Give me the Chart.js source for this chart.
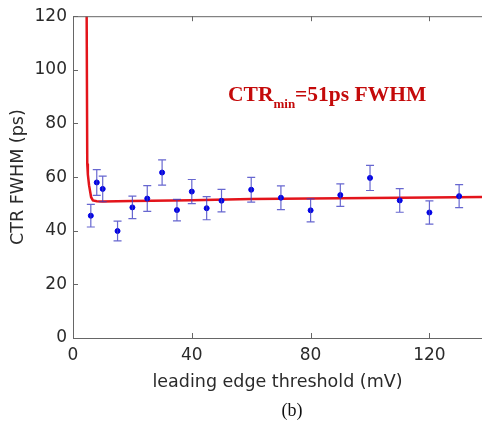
<!DOCTYPE html>
<html>
<head>
<meta charset="utf-8">
<script src="https://cdn.jsdelivr.net/npm/chart.js@4"></script>
<style>
  html, body { margin: 0; padding: 0; background: #fff; overflow: hidden; }
  #wrap { position: relative; width: 482px; height: 423px; overflow: hidden; }
</style>
</head>
<body>
<div id="wrap"><canvas id="c" width="487" height="423"></canvas></div>
<script>
// measured CTR per leading edge threshold
const thresholds = [6, 8, 10, 15, 20, 25, 30, 35, 40, 45, 50, 60, 70, 80, 90, 100, 110, 120, 130]
const ctr = [45.6, 58.0, 55.6, 39.9, 48.7, 52.0, 61.7, 47.7, 54.6, 48.4, 51.2, 55.3, 52.3, 47.6, 53.3, 59.7, 51.3, 46.8, 52.9]
const ctrErr = [4.2, 4.8, 4.8, 3.7, 4.2, 4.8, 4.7, 4.0, 4.5, 4.3, 4.2, 4.6, 4.4, 4.3, 4.2, 4.7, 4.4, 4.3, 4.3]

// fitted curve
const fitX = [4.6, 4.8, 5.0, 5.4, 6.1, 6.7, 8, 10, 20, 40, 60, 80, 100, 120, 137.7]
const fitY = [120, 65, 61, 57, 52.5, 51.3, 51, 50.9, 51.1, 51.4, 51.8, 52.0, 52.2, 52.4, 52.6]

const yTicks = [0, 20, 40, 60, 80, 100, 120]
const xTicks = [0, 40, 80, 120]

const axisColor = "#666"
const textColor = "#2a2a2a"
const tickFont = { family: "DejaVu Sans", size: 17 }
const titleFont = { family: "DejaVu Sans", size: 17.5 }

const errorBars = {
  id: "errorBars",
  afterDatasetsDraw(chart) {
    const { ctx, scales: { x, y } } = chart
    ctx.save()
    ctx.strokeStyle = "rgba(60,60,195,0.78)"
    ctx.lineWidth = 1.2
    thresholds.forEach((t, i) => {
      const px = x.getPixelForValue(t)
      const top = y.getPixelForValue(ctr[i] + ctrErr[i])
      const bot = y.getPixelForValue(ctr[i] - ctrErr[i])
      ctx.beginPath()
      ctx.moveTo(px, top); ctx.lineTo(px, bot)
      ctx.moveTo(px - 4, top); ctx.lineTo(px + 4, top)
      ctx.moveTo(px - 4, bot); ctx.lineTo(px + 4, bot)
      ctx.stroke()
    })
    ctx.restore()
  }
}

const frame = {
  id: "frame",
  afterDraw(chart) {
    const { ctx, chartArea: a, scales: { x, y } } = chart
    ctx.save()
    ctx.strokeStyle = axisColor
    ctx.lineWidth = 1
    ctx.beginPath()
    ctx.moveTo(a.left, a.top + 0.5); ctx.lineTo(a.right, a.top + 0.5)
    yTicks.forEach(v => {
      const py = Math.round(y.getPixelForValue(v)) + 0.5
      ctx.moveTo(a.left, py); ctx.lineTo(a.left + 5, py)
    })
    xTicks.forEach(v => {
      const px = Math.round(x.getPixelForValue(v)) + 0.5
      ctx.moveTo(px, a.bottom); ctx.lineTo(px, a.bottom - 5)
      ctx.moveTo(px, a.top); ctx.lineTo(px, a.top + 5)
    })
    ctx.stroke()

    // annotation
    const ax = x.getPixelForValue(52.2)
    const ay = y.getPixelForValue(88.5)
    ctx.fillStyle = "#c40a0a"
    ctx.textBaseline = "alphabetic"
    ctx.font = "bold 21.5px 'Liberation Serif'"
    ctx.fillText("CTR", ax, ay)
    let w = ctx.measureText("CTR").width
    ctx.font = "bold 13px 'Liberation Serif'"
    ctx.fillText("min", ax + w, ay + 7)
    w += ctx.measureText("min").width
    ctx.font = "bold 21.5px 'Liberation Serif'"
    ctx.fillText("=51ps FWHM", ax + w, ay)

    // panel label
    ctx.fillStyle = "#111"
    ctx.font = "18px 'Liberation Serif'"
    ctx.textAlign = "center"
    ctx.fillText("(b)", 292, 416)
    ctx.restore()
  }
}

new Chart(document.getElementById("c"), {
  type: "scatter",
  data: {
    datasets: [
      {
        label: "fit",
        type: "line",
        data: fitX.map((v, i) => ({ x: v, y: fitY[i] })),
        borderColor: "#e3141b",
        borderWidth: 2.5,
        pointRadius: 0,
        tension: 0,
        fill: false,
        order: 1
      },
      {
        label: "CTR",
        data: thresholds.map((v, i) => ({ x: v, y: ctr[i] })),
        backgroundColor: "#0000e6",
        borderColor: "#0000e6",
        pointRadius: 2.5,
        order: 0
      }
    ]
  },
  options: {
    responsive: false,
    animation: false,
    layout: { padding: { top: 15, left: 0, right: 0, bottom: 30 } },
    plugins: { legend: { display: false }, tooltip: { enabled: false } },
    scales: {
      x: {
        type: "linear",
        min: 0,
        max: 137.7,
        afterBuildTicks: s => { s.ticks = xTicks.map(v => ({ value: v })) },
        afterFit: s => { s.height = 55 },
        grid: { drawOnChartArea: false, drawTicks: false },
        border: { color: axisColor },
        ticks: { color: textColor, font: tickFont, padding: 7, maxRotation: 0 },
        title: {
          display: true,
          text: "leading edge threshold (mV)",
          color: textColor,
          font: titleFont,
          padding: { top: 2, bottom: 0 }
        }
      },
      y: {
        min: 0,
        max: 120,
        afterBuildTicks: s => { s.ticks = yTicks.map(v => ({ value: v })) },
        afterFit: s => { s.width = 73 },
        grid: { drawOnChartArea: false, drawTicks: false },
        border: { color: axisColor },
        ticks: { color: textColor, font: tickFont, padding: 6 },
        title: {
          display: true,
          text: "CTR FWHM (ps)",
          color: textColor,
          font: titleFont,
          padding: { top: 8, bottom: 0 }
        }
      }
    }
  },
  plugins: [errorBars, frame]
})
</script>
</body>
</html>
